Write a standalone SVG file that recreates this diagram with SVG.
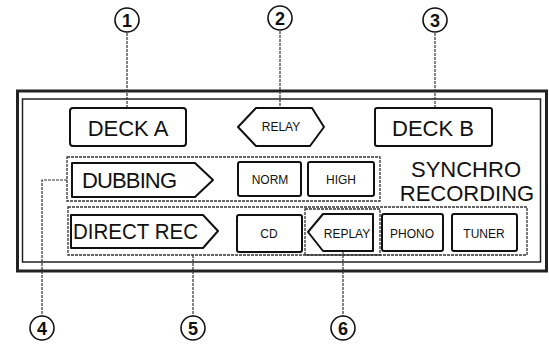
<svg xmlns="http://www.w3.org/2000/svg" width="549" height="351" viewBox="0 0 549 351">
<style>
.btn{fill:#fff;stroke:#111;stroke-width:2;stroke-linejoin:round}
.grp{fill:none;stroke:#333;stroke-width:1.3;stroke-dasharray:3 1}
.lead{fill:none;stroke:#333;stroke-width:1.2;stroke-dasharray:3 1}
.big{font-family:"Liberation Sans",Arial,sans-serif;font-size:22px;fill:#111}
.sm{font-family:"Liberation Sans",Arial,sans-serif;font-size:12px;fill:#111;text-anchor:middle}
.num{font-family:"Liberation Sans",Arial,sans-serif;font-size:18px;font-weight:bold;fill:#111;text-anchor:middle}
.circ{fill:#fff;stroke:#111;stroke-width:1.6}
</style>
<rect width="549" height="351" fill="#fff"/>
<g id="panel">
<rect x="17.5" y="91" width="529" height="180" fill="none" stroke="#222" stroke-width="3"/>
<rect x="22.5" y="99" width="518" height="163" fill="none" stroke="#222" stroke-width="1.5"/>
</g>
<g id="connectors">
<path class="lead" d="M127 33V108"/>
<path class="lead" d="M280 31V108"/>
<path class="lead" d="M435 33V108"/>
<path class="lead" d="M67 180H42V316"/>
<path class="lead" d="M193 255V316"/>
<path class="lead" d="M343 251V316"/>
</g>
<g id="dubbing-group"><rect class="grp" x="67" y="157" width="313" height="44"/></g>
<g id="direct-group"><rect class="grp" x="68" y="207" width="459" height="48"/></g>
<g id="replay-group"><rect class="grp" x="305" y="209" width="75" height="46"/></g>
<g id="deck-a"><rect class="btn" x="70" y="108" width="116" height="38" rx="3"/><text class="big" x="128" y="136" text-anchor="middle">DECK A</text></g>
<g id="relay"><polygon class="btn" points="238,127 256,108 312,108 324,127 310,146 256,146"/><text class="sm" x="281" y="131">RELAY</text></g>
<g id="deck-b"><rect class="btn" x="375" y="108" width="117" height="38" rx="2"/><text class="big" x="433" y="136" text-anchor="middle">DECK B</text></g>
<g id="dubbing"><polygon class="btn" points="72,163 195,163 213,180 195,197 72,197"/><text class="big" x="82" y="188" textLength="95">DUBBING</text></g>
<g id="norm"><rect class="btn" x="238" y="162" width="63" height="34" rx="2"/><text class="sm" x="270" y="184">NORM</text></g>
<g id="high"><rect class="btn" x="308" y="162" width="66" height="34" rx="2"/><text class="sm" x="341" y="184">HIGH</text></g>
<g id="synchro"><text class="big" x="466" y="177" text-anchor="middle">SYNCHRO</text><text class="big" x="467" y="201" text-anchor="middle">RECORDING</text></g>
<g id="direct-rec"><polygon class="btn" points="71,215 203,215 218,231 203,248 71,248"/><text class="big" x="73" y="239" textLength="125" lengthAdjust="spacingAndGlyphs">DIRECT REC</text></g>
<g id="cd"><rect class="btn" x="237" y="215" width="65" height="37" rx="2"/><text class="sm" x="269" y="238">CD</text></g>
<g id="replay"><polygon class="btn" points="308,232 323,214 373,214 373,251 323,251"/><text class="sm" x="347" y="238">REPLAY</text></g>
<g id="phono"><rect class="btn" x="382" y="214" width="61" height="37" rx="2"/><text class="sm" x="412" y="238">PHONO</text></g>
<g id="tuner"><rect class="btn" x="452" y="214" width="65" height="37" rx="2"/><text class="sm" x="484" y="238">TUNER</text></g>
<g id="c1"><circle class="circ" cx="127" cy="20" r="12"/><text class="num" x="127" y="26.5">1</text></g>
<g id="c2"><circle class="circ" cx="280" cy="18" r="12"/><text class="num" x="280" y="24.5">2</text></g>
<g id="c3"><circle class="circ" cx="435" cy="20" r="12"/><text class="num" x="435" y="26.5">3</text></g>
<g id="c4"><circle class="circ" cx="42" cy="328" r="12"/><text class="num" x="42" y="334.5">4</text></g>
<g id="c5"><circle class="circ" cx="193" cy="328" r="12"/><text class="num" x="193" y="334.5">5</text></g>
<g id="c6"><circle class="circ" cx="343" cy="328" r="12"/><text class="num" x="343" y="334.5">6</text></g>
</svg>
